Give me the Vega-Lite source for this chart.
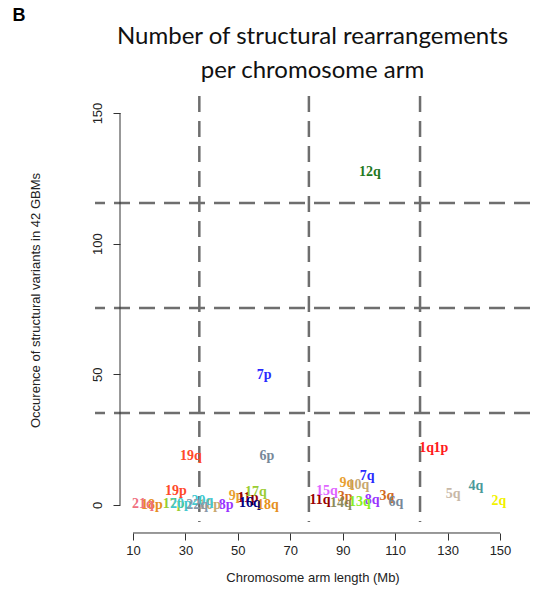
{
  "$schema": "https://vega.github.io/schema/vega-lite/v6.json",
  "autosize": {"type": "none"},
  "padding": {"left": 95, "top": 96, "right": 20, "bottom": 72},
  "width": 435,
  "height": 426,
  "background": "white",
  "config": {"view": {"stroke": null}},
  "title": {
    "text": ["Number of structural rearrangements", "per chromosome arm"],
    "font": "Lato",
    "fontSize": 24,
    "fontWeight": "normal",
    "color": "#111111",
    "lineHeight": 34,
    "anchor": "middle",
    "frame": "group",
    "offset": 0,
    "baseline": "top",
    "dy": 76
  },
  "datasets": {
    "arms": [
      {"arm": "1p", "chr": "1", "len": 127.5, "count": 21.8},
      {"arm": "1q", "chr": "1", "len": 122.0, "count": 21.8},
      {"arm": "2q", "chr": "2", "len": 149.6, "count": 1.5},
      {"arm": "3p", "chr": "3", "len": 90.9, "count": 3.1},
      {"arm": "3q", "chr": "3", "len": 106.9, "count": 3.4},
      {"arm": "4q", "chr": "4", "len": 140.8, "count": 7.3},
      {"arm": "5q", "chr": "5", "len": 132.1, "count": 4.2},
      {"arm": "6p", "chr": "6", "len": 61.1, "count": 18.8},
      {"arm": "6q", "chr": "6", "len": 110.3, "count": 1.1},
      {"arm": "7p", "chr": "7", "len": 60.0, "count": 49.7},
      {"arm": "7q", "chr": "7", "len": 99.3, "count": 11.1},
      {"arm": "8p", "chr": "8", "len": 45.5, "count": 0},
      {"arm": "8q", "chr": "8", "len": 101.2, "count": 1.9},
      {"arm": "9p", "chr": "9", "len": 49.3, "count": 3.4},
      {"arm": "9q", "chr": "9", "len": 91.6, "count": 8.4},
      {"arm": "10p", "chr": "10", "len": 39.4, "count": 0},
      {"arm": "10q", "chr": "10", "len": 96.0, "count": 7.8},
      {"arm": "11p", "chr": "11", "len": 53.9, "count": 2.7},
      {"arm": "11q", "chr": "11", "len": 81.3, "count": 1.9},
      {"arm": "12q", "chr": "12", "len": 100.4, "count": 127.4},
      {"arm": "13q", "chr": "13", "len": 96.6, "count": 1.1},
      {"arm": "14q", "chr": "14", "len": 89.3, "count": 0.8},
      {"arm": "15q", "chr": "15", "len": 84.0, "count": 5.4},
      {"arm": "16q", "chr": "16", "len": 54.6, "count": 0.8},
      {"arm": "17p", "chr": "17", "len": 25.5, "count": 0.5},
      {"arm": "17q", "chr": "17", "len": 56.9, "count": 5.0},
      {"arm": "18p", "chr": "18", "len": 17.2, "count": 0},
      {"arm": "18q", "chr": "18", "len": 61.5, "count": 0},
      {"arm": "19p", "chr": "19", "len": 26.4, "count": 5.4},
      {"arm": "19q", "chr": "19", "len": 32.1, "count": 18.8},
      {"arm": "20p", "chr": "20", "len": 28.3, "count": 0.5},
      {"arm": "20q", "chr": "20", "len": 36.5, "count": 1.5},
      {"arm": "21q", "chr": "21", "len": 13.8, "count": 0.3},
      {"arm": "22q", "chr": "22", "len": 34.5, "count": 0}
    ],
    "xcuts": [{"cut": 35.3}, {"cut": 77.1}, {"cut": 119.5}],
    "ycuts": [{"cut": 115.6}, {"cut": 75.4}, {"cut": 35.2}]
  },
  "layer": [
    {
      "data": {"name": "xcuts"},
      "mark": {"type": "rule", "color": "#6e6e6e", "strokeWidth": 2.5, "strokeDash": [16, 9]},
      "encoding": {
        "x": {"field": "cut", "type": "quantitative", "title": "Chromosome arm length (Mb)"}
      }
    },
    {
      "data": {"name": "ycuts"},
      "mark": {"type": "rule", "color": "#6e6e6e", "strokeWidth": 2.5, "strokeDash": [16, 9]},
      "encoding": {
        "y": {"field": "cut", "type": "quantitative", "title": "Occurence of structural variants in 42 GBMs"}
      }
    },
    {
      "data": {"values": [{}]},
      "mark": {"type": "rule", "color": "#333333", "strokeWidth": 1},
      "encoding": {
        "x": {"datum": 10, "type": "quantitative", "title": "Chromosome arm length (Mb)"},
        "x2": {"datum": 150},
        "y": {"datum": -10.71, "type": "quantitative", "title": "Occurence of structural variants in 42 GBMs"}
      }
    },
    {
      "data": {"values": [{}]},
      "mark": {"type": "rule", "color": "#333333", "strokeWidth": 1},
      "encoding": {
        "x": {"datum": 5.04, "type": "quantitative", "title": "Chromosome arm length (Mb)"},
        "y": {"datum": 0, "type": "quantitative", "title": "Occurence of structural variants in 42 GBMs"},
        "y2": {"datum": 150}
      }
    },
    {
      "data": {"values": [{}]},
      "mark": {"type": "text", "text": "B", "font": "Liberation Sans", "fontWeight": "bold", "fontSize": 18, "align": "center", "baseline": "middle", "color": "#000000"},
      "encoding": {
        "x": {"datum": -33.49, "type": "quantitative", "title": "Chromosome arm length (Mb)"},
        "y": {"datum": 187.1, "type": "quantitative", "title": "Occurence of structural variants in 42 GBMs"}
      }
    },
    {
      "data": {"name": "arms"},
      "mark": {"type": "text", "font": "Liberation Serif", "fontWeight": "bold", "fontSize": 14, "align": "center", "baseline": "middle"},
      "encoding": {
        "x": {
          "field": "len",
          "type": "quantitative",
          "title": "Chromosome arm length (Mb)",
          "scale": {"domain": [-4.5, 161.45], "nice": false, "zero": false},
          "axis": {
            "values": [10, 30, 50, 70, 90, 110, 130, 150],
            "domain": false,
            "grid": false,
            "offset": 11,
            "tickSize": 7,
            "tickColor": "#333333",
            "labelFont": "Liberation Sans",
            "labelFontSize": 13,
            "labelColor": "#222222",
            "labelPadding": 4,
            "labelFlush": false,
            "labelOverlap": false,
            "titleFont": "Liberation Sans",
            "titleFontSize": 13,
            "titleFontWeight": "normal",
            "titleColor": "#222222",
            "titlePadding": 14
          }
        },
        "y": {
          "field": "count",
          "type": "quantitative",
          "title": "Occurence of structural variants in 42 GBMs",
          "scale": {"domain": [-6.505, 156.51], "nice": false, "zero": false},
          "axis": {
            "values": [0, 50, 100, 150],
            "domain": false,
            "grid": false,
            "offset": -25,
            "tickSize": 7,
            "tickColor": "#333333",
            "labelAngle": -90,
            "labelAlign": "center",
            "labelBaseline": "bottom",
            "labelPadding": 9,
            "labelFont": "Liberation Sans",
            "labelFontSize": 13,
            "labelColor": "#222222",
            "labelFlush": false,
            "labelOverlap": false,
            "titleFont": "Liberation Sans",
            "titleFontSize": 13,
            "titleFontWeight": "normal",
            "titleColor": "#222222",
            "titlePadding": 49,
            "titleY": 204
          }
        },
        "text": {"field": "arm"},
        "color": {
          "field": "chr",
          "type": "nominal",
          "legend": null,
          "scale": {
            "domain": ["1", "2", "3", "4", "5", "6", "7", "8", "9", "10", "11", "12", "13", "14", "15", "16", "17", "18", "19", "20", "21", "22"],
            "range": ["#ff1a1a", "#f2f200", "#d2691e", "#4a9a9a", "#c8b8a8", "#778899", "#2a2aff", "#9933ff", "#e8a030", "#c8a870", "#990000", "#1f7a1f", "#88ee22", "#8c8c5c", "#e066ff", "#000080", "#9acd32", "#e69020", "#ff4a2a", "#40c8d0", "#f07080", "#8899aa"]
          }
        }
      }
    }
  ]
}
